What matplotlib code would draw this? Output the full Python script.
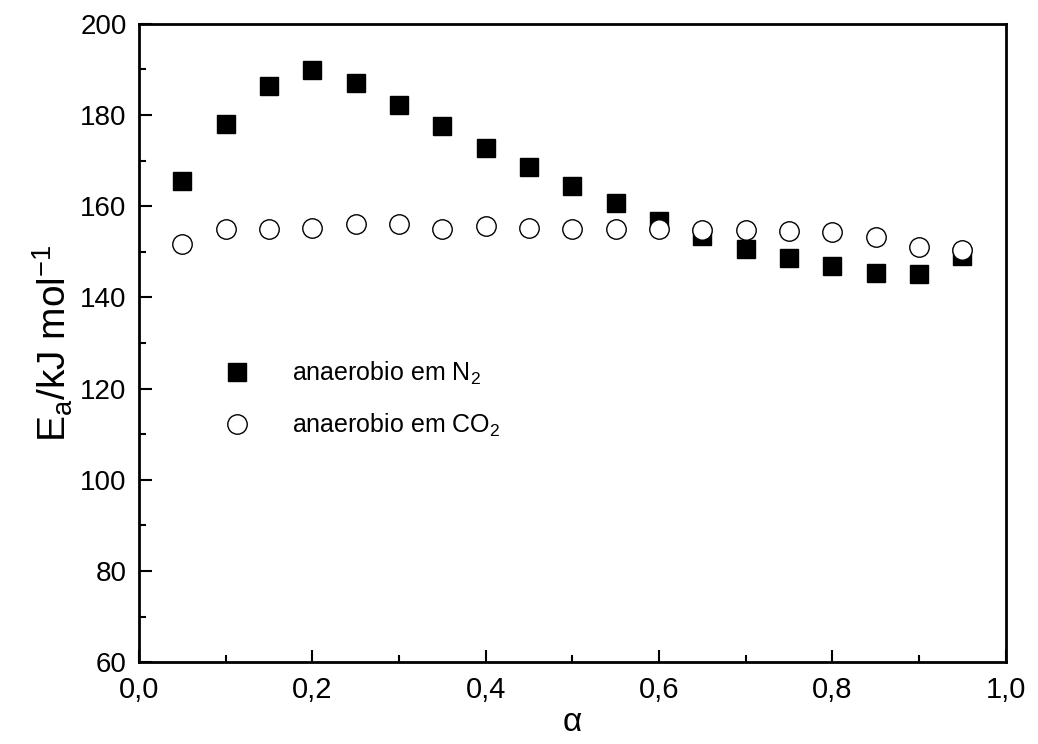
import matplotlib
matplotlib.use("Agg")
import matplotlib.pyplot as plt
from matplotlib.ticker import MultipleLocator, FuncFormatter

plt.rcParams['font.family'] = ['Liberation Sans', 'DejaVu Sans']
plt.rcParams['mathtext.fontset'] = 'custom'
plt.rcParams['mathtext.rm'] = 'Liberation Sans'
plt.rcParams['mathtext.it'] = 'Liberation Sans:italic'
plt.rcParams['mathtext.default'] = 'regular'

alpha = [0.05, 0.10, 0.15, 0.20, 0.25, 0.30, 0.35, 0.40, 0.45, 0.50,
         0.55, 0.60, 0.65, 0.70, 0.75, 0.80, 0.85, 0.90, 0.95]
ea_n2 = [165.5, 178.1, 186.4, 189.9, 187.1, 182.2, 177.6, 172.8, 168.6, 164.4,
         160.6, 156.8, 153.4, 150.6, 148.6, 146.8, 145.3, 145.1, 149.0]
ea_co2 = [151.7, 155.1, 155.1, 155.3, 156.0, 156.0, 155.1, 155.7, 155.3, 155.1,
          154.9, 154.9, 154.8, 154.8, 154.6, 154.4, 153.2, 151.0, 150.4]
label_n2 = 'anaerobio em N$_2$'
label_co2 = 'anaerobio em CO$_2$'

fig = plt.figure(figsize=(10.38, 7.44), dpi=100)
ax = fig.add_axes([0.134, 0.110, 0.835, 0.858])

ax.plot(alpha, ea_n2, linestyle='none', marker='s', markersize=13,
        color='black', label=label_n2)
ax.plot(alpha, ea_co2, linestyle='none', marker='o', markersize=14,
        markerfacecolor='white', markeredgecolor='black', markeredgewidth=1.0,
        label=label_co2)

ax.set_xlim(0, 1.0)
ax.set_ylim(60, 200)
ax.xaxis.set_major_locator(MultipleLocator(0.2))
ax.xaxis.set_minor_locator(MultipleLocator(0.1))
ax.yaxis.set_major_locator(MultipleLocator(20))
ax.yaxis.set_minor_locator(MultipleLocator(10))
ax.xaxis.set_major_formatter(FuncFormatter(lambda v, p: f"{v:.1f}".replace('.', ',')))

ax.tick_params(which='major', direction='in', length=9, width=1.5,
               pad=9, top=False, right=False)
ax.tick_params(axis='y', which='major', labelsize=20)
ax.tick_params(axis='x', which='major', labelsize=21, pad=10)
ax.tick_params(which='minor', direction='in', length=5, width=1.5,
               top=False, right=False)
for s in ax.spines.values():
    s.set_linewidth(2)

ax.set_xlabel('α', fontsize=24, labelpad=2)
ax.set_ylabel('E$_a$/kJ mol$^{-1}$', fontsize=28, labelpad=4)

leg = ax.legend(loc='center left', bbox_to_anchor=(0.07, 0.412), frameon=False,
                fontsize=18, handletextpad=1.2, labelspacing=1.0,
                handlelength=2.0, borderpad=0)

fig.savefig('out.png', dpi=100)
